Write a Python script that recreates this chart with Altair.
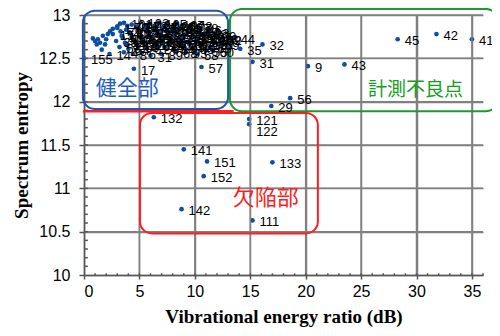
import altair as alt
import pandas as pd

# ---- labelled outlier samples ----
out_x = [13.5, 14.1, 16.1, 15.2, 20.2, 23.5, 28.3, 31.8, 35.0, 18.6, 16.9,
         14.9, 14.9, 6.3, 9.0, 11.1, 10.8, 17.0, 8.8, 15.2, 10.6, 4.5, 0.0, 2.3, 6.0]
out_y = [12.735, 12.61, 12.66, 12.46, 12.41, 12.43, 12.72, 12.78, 12.72, 12.04, 11.95,
         11.80, 11.74, 11.82, 11.45, 11.31, 11.14, 11.30, 10.76, 10.63, 12.40, 12.38, 12.50, 12.55, 12.53]
out_lab = ["44", "35", "32", "31", "9", "43", "45", "42", "41", "56", "29",
           "121", "122", "132", "141", "151", "152", "133", "142", "111", "57", "17", "155", "14", "31"]

# ---- dense healthy cluster ----
cl_x = [3.6, 4.3, 5.1, 5.9, 6.7, 7.5, 8.3, 9.0,
        3.0, 3.8, 4.7, 5.5, 6.3, 7.1, 7.9, 8.7, 9.5, 10.5, 11.2,
        2.6, 3.4, 4.2, 5.0, 5.8, 6.6, 7.4, 8.2, 9.0, 9.8, 10.6, 11.4, 12.0,
        2.9, 3.7, 4.5, 5.3, 6.1, 6.9, 7.7, 8.5, 9.3, 10.1, 10.9, 11.7, 12.3,
        3.2, 4.0, 4.9, 5.7, 6.5, 7.3, 8.1, 9.0, 9.8, 10.6, 11.4, 12.1,
        3.6, 4.4, 5.2, 7.0, 8.3, 9.2, 10.2, 11.0, 11.6,
        3.9, 4.8, 5.6, 6.4, 7.2, 8.0, 8.8, 9.6, 10.2,
        3.3, 4.1, 5.0, 5.9, 6.8, 7.6, 8.5, 9.4, 10.3, 11.0, 11.8,
        3.5, 4.3, 5.2, 6.1, 7.0, 7.9, 8.9, 9.7, 10.8, 11.6,
        3.8, 4.7, 5.6, 6.6, 7.6, 8.6, 9.5, 10.4]
cl_y = [12.91, 12.89, 12.92, 12.90, 12.91, 12.89, 12.90, 12.88,
        12.85, 12.83, 12.86, 12.84, 12.82, 12.85, 12.83, 12.85, 12.83, 12.84, 12.80,
        12.78, 12.76, 12.79, 12.77, 12.75, 12.78, 12.76, 12.79, 12.77, 12.75, 12.78, 12.76, 12.74,
        12.70, 12.68, 12.71, 12.69, 12.72, 12.70, 12.68, 12.71, 12.69, 12.72, 12.70, 12.68, 12.72,
        12.63, 12.61, 12.64, 12.62, 12.65, 12.63, 12.61, 12.64, 12.62, 12.65, 12.63, 12.66,
        12.57, 12.55, 12.56, 12.55, 12.57, 12.57, 12.55, 12.59, 12.59,
        12.875, 12.87, 12.88, 12.865, 12.87, 12.86, 12.87, 12.86, 12.865,
        12.81, 12.80, 12.815, 12.80, 12.81, 12.80, 12.815, 12.80, 12.81, 12.79, 12.77,
        12.735, 12.74, 12.73, 12.745, 12.735, 12.74, 12.73, 12.745, 12.73, 12.72,
        12.665, 12.66, 12.67, 12.66, 12.665, 12.67, 12.66, 12.67]
cl_lab = ["101", "102", "103", "104", "105", "106", "107", "108",
          "1", "2", "3", "5", "6", "7", "10", "11", "12", "46", "13",
          "15", "16", "18", "19", "20", "21", "22", "23", "24", "25", "26", "27", "28",
          "33", "34", "36", "37", "38", "39", "40", "47", "48", "49", "50", "51", "52",
          "53", "54", "59", "61", "62", "63", "64", "65", "66", "67", "68", "69",
          "4", "8", "6", "89", "68", "93", "58", "55", "60",
          "70", "71", "72", "73", "74", "75", "76", "77", "78",
          "79", "80", "81", "82", "83", "84", "85", "86", "87", "88", "90",
          "91", "92", "94", "95", "96", "97", "98", "99", "100", "109",
          "110", "112", "113", "114", "115", "116", "117", "118"]

# ---- unlabelled scattered points at the left ----
left_x = [0.8, 1.0, 1.25, 1.45, 1.7, 1.9, 1.15, 2.15, 2.35, 2.6, 3.0, 3.25, 1.6, 2.0]
left_y = [12.73, 12.70, 12.72, 12.68, 12.76, 12.66, 12.66, 12.78, 12.81, 12.84, 12.87, 12.90, 12.60, 12.72]

rows = []
for x, y, l in zip(out_x, out_y, out_lab):
    rows.append({"x": x, "y": y, "lab": l, "ly": 11.67 if l == "122" else y})
for x, y, l in zip(cl_x, cl_y, cl_lab):
    rows.append({"x": x, "y": y, "lab": l, "ly": y})
for x, y in zip(left_x, left_y):
    rows.append({"x": x, "y": y, "lab": "", "ly": y})
df = pd.DataFrame(rows)

# ---- annotation boxes ----
box_x1 = [-0.1, 13.17, 5.05]
box_x2 = [13.0, 37.35, 21.1]
box_y1 = [13.05, 13.07, 11.87]
box_y2 = [11.915, 11.89, 10.48]
box_col = ["#1f55b0", "#1a9a30", "#ff1e1e"]
boxes = pd.DataFrame({"x1": box_x1, "x2": box_x2, "y1": box_y1, "y2": box_y2, "c": box_col})

note_text = ["健全部", "計測不良点", "欠陥部"]
note_x = [3.9, 29.9, 16.4]
note_y = [12.15, 12.13, 10.89]
note_col = ["#1f5cc0", "#12a020", "#ff1e1e"]
note_fs = [21, 19, 22]
notes = pd.DataFrame({"t": note_text, "x": note_x, "y": note_y, "c": note_col, "fs": note_fs})

line_df = pd.DataFrame({"x1": [-0.1], "x2": [13.5], "y": [11.89]})

# axis decoration positions
x_ticks = [0, 5, 10, 15, 20, 25, 30, 35]
y_ticks = [10, 10.5, 11, 11.5, 12, 12.5, 13]
gv_x = [5, 10, 15, 20, 25, 30, 35]
gv_y = [10.5, 11, 11.5, 12, 12.5, 13]
grid_x_df = pd.DataFrame({"gxv": gv_x, "glo": [10.0] * len(gv_x), "ghi": [13.0] * len(gv_x)})
grid_y_df = pd.DataFrame({"gyv": gv_y, "glo": [0.0] * len(gv_y), "ghi": [36.0] * len(gv_y)})
mx_vals = list(range(1, 37))
my_vals = [round(10 + i * 0.1, 1) for i in range(1, 30)]
mx_df = pd.DataFrame({"mxv": mx_vals, "b": [10.0] * len(mx_vals), "t": [10.02] * len(mx_vals)})
my_df = pd.DataFrame({"myv": my_vals, "b": [0.0] * len(my_vals), "t": [0.35] * len(my_vals)})

xs = alt.Scale(domain=[0, 36], nice=False, zero=False)
ys = alt.Scale(domain=[10, 13], nice=False, zero=False)

x_axis = alt.Axis(values=x_ticks, grid=True, gridColor="#808080", gridWidth=1.5,
                  gridOpacity=1, domainColor="#555555", domainWidth=1.5,
                  tickColor="#555555", tickWidth=1.5, tickSize=4, labelFont="Liberation Sans",
                  labelFontSize=16, labelColor="black", labelPadding=4,
                  title="Vibrational  energy ratio (dB)", titleFont="Liberation Serif",
                  titleFontWeight="bold", titleFontSize=19, titleColor="black", titlePadding=8)
y_axis = alt.Axis(values=y_ticks, format="~g", grid=True, gridColor="#808080", gridWidth=1.5,
                  gridOpacity=1, domainColor="#555555",
                  domainWidth=1.5, tickColor="#555555", tickWidth=1.5, tickSize=5,
                  labelFont="Liberation Sans", labelFontSize=16, labelColor="black",
                  labelPadding=9, title="Spectrum entropy", titleFont="Liberation Serif",
                  titleFontWeight="bold", titleFontSize=19, titleColor="black", titlePadding=7)

pts = alt.Chart(df).mark_circle(size=22, color="#0b4ea2", opacity=1).encode(
    x=alt.X("x:Q", scale=xs, axis=x_axis),
    y=alt.Y("y:Q", scale=ys, axis=y_axis),
)
gx = alt.Chart(grid_x_df).mark_rule(color="#808080", strokeWidth=1.5).encode(
    x=alt.X("gxv:Q", scale=xs),
    y=alt.Y("glo:Q", scale=ys), y2="ghi:Q")
gy = alt.Chart(grid_y_df).mark_rule(color="#808080", strokeWidth=1.5).encode(
    y=alt.Y("gyv:Q", scale=ys),
    x=alt.X("glo:Q", scale=xs), x2="ghi:Q")
mx = alt.Chart(mx_df).mark_rule(color="#555555", strokeWidth=1.5).encode(
    x=alt.X("mxv:Q", scale=xs),
    y=alt.Y("b:Q", scale=ys), y2="t:Q",
)
my = alt.Chart(my_df).mark_rule(color="#555555", strokeWidth=1.5).encode(
    y=alt.Y("myv:Q", scale=ys),
    x=alt.X("b:Q", scale=xs), x2="t:Q",
)
labels = alt.Chart(df).mark_text(align="left", baseline="middle", dx=7, dy=2, fontSize=13,
                                 font="Liberation Sans", color="black").encode(
    x=alt.X("x:Q", scale=xs),
    y=alt.Y("ly:Q", scale=ys),
    text="lab:N",
)
box_layer = alt.Chart(boxes).mark_rect(fillOpacity=0, strokeWidth=2, cornerRadius=12).encode(
    x=alt.X("x1:Q", scale=xs), x2="x2:Q",
    y=alt.Y("y1:Q", scale=ys), y2="y2:Q",
    stroke=alt.Stroke("c:N", scale=None),
)
line_layer = alt.Chart(line_df).mark_rule(color="#ff1e1e", strokeWidth=2.5).encode(
    x=alt.X("x1:Q", scale=xs), x2="x2:Q",
    y=alt.Y("y:Q", scale=ys),
)
note_layer = alt.Chart(notes).mark_text(font="Noto Sans CJK JP", align="center",
                                        baseline="middle").encode(
    x=alt.X("x:Q", scale=xs),
    y=alt.Y("y:Q", scale=ys),
    text="t:N",
    color=alt.Color("c:N", scale=None),
    size=alt.Size("fs:Q", scale=None),
)

chart = alt.layer(pts, gx, gy, mx, my, box_layer, line_layer, labels, note_layer).properties(
    width=399, height=260,
    autosize=alt.AutoSizeParams(type="none"),
    padding={"left": 76, "top": 7, "right": 9, "bottom": 53},
).configure_view(stroke=None)

chart.save("out.html", embed_options={"renderer": "svg", "actions": False})
